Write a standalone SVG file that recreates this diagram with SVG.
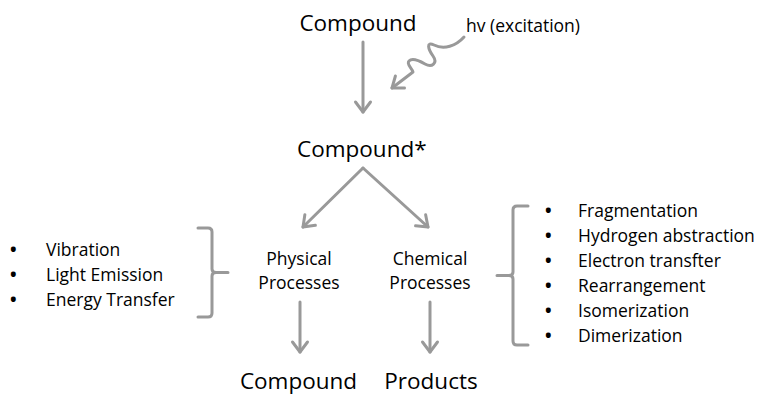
<svg xmlns="http://www.w3.org/2000/svg" width="764" height="396" viewBox="0 0 764 396">
<defs>
<style>
text{font-family:"Open Sans","Noto Sans",sans-serif;fill:#000}
.big{font-size:22.5px}
.sm{font-size:17.5px}
.bu{font-size:17.5px;font-weight:bold}
.mid{text-anchor:middle}
.ln{fill:none;stroke:#999;stroke-width:3;stroke-linecap:round;stroke-linejoin:round}
.arr{marker-end:url(#ah)}
</style>
<marker id="ah" markerUnits="userSpaceOnUse" markerWidth="20" markerHeight="20" viewBox="-12 -10 14 20" refX="0" refY="0" orient="auto">
<path d="M-10,-7.5 L0,0 L-10,7.5" fill="none" stroke="#999" stroke-width="3" stroke-linecap="round" stroke-linejoin="round"/>
</marker>
</defs>
<rect width="764" height="396" fill="#fff"/>
<g id="compound-top"><text class="big mid" x="358" y="31">Compound</text></g>
<g id="excitation"><text class="sm" x="466" y="32">hv (excitation)</text></g>
<g id="compound-star"><text class="big" x="297" y="157">Compound*</text></g>
<g id="physical"><text class="sm mid" x="299" y="265">Physical</text><text class="sm mid" x="299" y="289">Processes</text></g>
<g id="chemical"><text class="sm mid" x="430" y="265">Chemical</text><text class="sm mid" x="430" y="289">Processes</text></g>
<g id="compound-bottom"><text class="big mid" x="298.5" y="389">Compound</text></g>
<g id="products"><text class="big mid" x="431" y="389">Products</text></g>
<g id="physical-list">
<text class="sm" x="10" y="256"><tspan class="bu">•</tspan><tspan x="46">Vibration</tspan></text>
<text class="sm" x="10" y="281"><tspan class="bu">•</tspan><tspan x="46">Light Emission</tspan></text>
<text class="sm" x="10" y="306"><tspan class="bu">•</tspan><tspan x="46">Energy Transfer</tspan></text>
</g>
<g id="chemical-list">
<text class="sm" x="545" y="217"><tspan class="bu">•</tspan><tspan x="578">Fragmentation</tspan></text>
<text class="sm" x="545" y="242"><tspan class="bu">•</tspan><tspan x="578">Hydrogen abstraction</tspan></text>
<text class="sm" x="545" y="267"><tspan class="bu">•</tspan><tspan x="578">Electron transfter</tspan></text>
<text class="sm" x="545" y="292"><tspan class="bu">•</tspan><tspan x="578">Rearrangement</tspan></text>
<text class="sm" x="545" y="317"><tspan class="bu">•</tspan><tspan x="578">Isomerization</tspan></text>
<text class="sm" x="545" y="342"><tspan class="bu">•</tspan><tspan x="578">Dimerization</tspan></text>
</g>
<g id="brackets">
<path class="ln" d="M198,228 L208,228 Q212,228 212,232 L212,269 Q212,272.5 216,272.5 L228,272.5 M216,272.5 Q212,272.5 212,276 L212,313 Q212,317 208,317 L198,317"/>
<path class="ln" d="M528,206 L517,206 Q513,206 513,210 L513,272 Q513,275.5 509,275.5 L497,275.5 M509,275.5 Q513,275.5 513,279 L513,341 Q513,345 517,345 L528,345"/>
</g>
<g id="connectors">
<line class="ln arr" x1="363" y1="42" x2="363" y2="112"/>
<path class="ln arr" d="M464,37 C456,46 444,50 434,45 C426,41 428,49 433,56 C438,63 432,68 425,64 C418,60 412,58 409,61 C406,64 412,68 413,72 L392,88"/>
<line class="ln arr" x1="363" y1="168" x2="303" y2="227"/>
<line class="ln arr" x1="363" y1="168" x2="428" y2="227"/>
<line class="ln arr" x1="300" y1="302" x2="300" y2="352"/>
<line class="ln arr" x1="430" y1="302" x2="430" y2="352"/>
</g>
</svg>
